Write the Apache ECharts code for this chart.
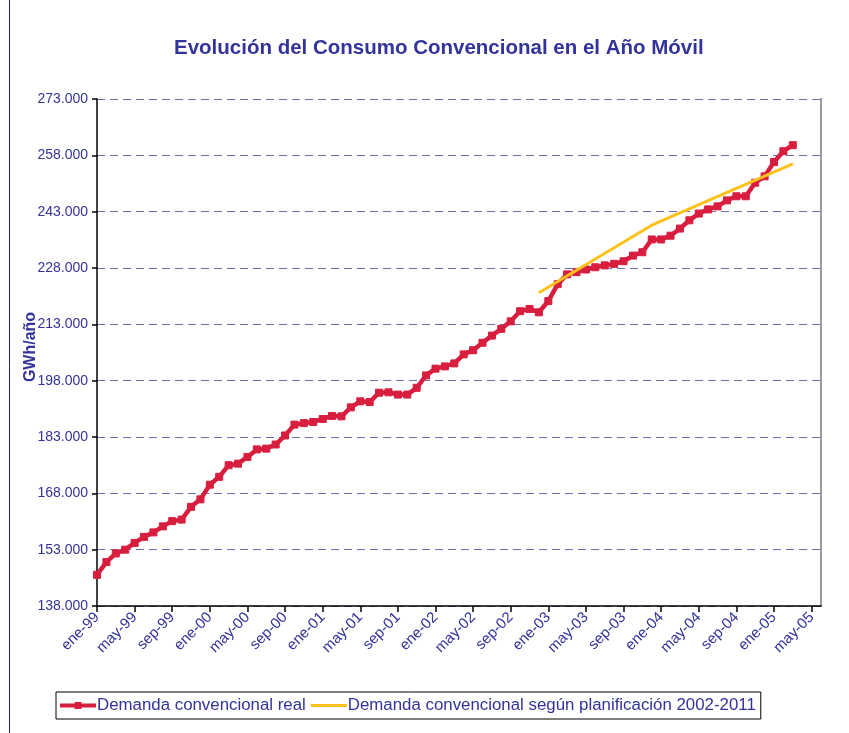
<!DOCTYPE html>
<html><head><meta charset="utf-8">
<script src="https://cdn.jsdelivr.net/npm/echarts@6/dist/echarts.min.js"></script>
<style>html,body{margin:0;padding:0;background:#fff}#c{width:849px;height:733px}</style>
</head><body><div id="c"></div>
<script>
const categorias = [
 'ene-99','feb-99','mar-99','abr-99','may-99','jun-99','jul-99','ago-99','sep-99','oct-99','nov-99','dic-99',
 'ene-00','feb-00','mar-00','abr-00','may-00','jun-00','jul-00','ago-00','sep-00','oct-00','nov-00','dic-00',
 'ene-01','feb-01','mar-01','abr-01','may-01','jun-01','jul-01','ago-01','sep-01','oct-01','nov-01','dic-01',
 'ene-02','feb-02','mar-02','abr-02','may-02','jun-02','jul-02','ago-02','sep-02','oct-02','nov-02','dic-02',
 'ene-03','feb-03','mar-03','abr-03','may-03','jun-03','jul-03','ago-03','sep-03','oct-03','nov-03','dic-03',
 'ene-04','feb-04','mar-04','abr-04','may-04','jun-04','jul-04','ago-04','sep-04','oct-04','nov-04','dic-04',
 'ene-05','feb-05','mar-05','abr-05','may-05','jun-05'
];
const demandaReal = [
 146.3,149.7,152.0,153.0,154.8,156.4,157.6,159.2,160.6,161.0,164.4,166.4,
 170.3,172.4,175.5,175.9,177.7,179.7,179.9,181.0,183.4,186.3,186.7,187.0,
 187.8,188.6,188.5,190.9,192.5,192.3,194.8,194.9,194.3,194.3,196.1,199.4,
 201.2,201.8,202.6,205.0,206.1,208.1,210.0,211.8,213.8,216.5,217.1,216.2,
 219.2,223.7,226.3,226.9,227.6,228.2,228.7,229.1,229.8,231.3,232.2,235.6,
 235.6,236.6,238.5,240.7,242.5,243.6,244.4,246.0,247.1,247.1,250.7,252.4,
 256.2,259.1,260.7
].map(v => Math.round(v * 1000));
const planIndices = [47, 59, 74];
const planValores = [221400, 239400, 255700];
const demandaPlan = categorias.map(() => null);
planIndices.forEach((idx, k) => { demandaPlan[idx] = planValores[k]; });

const yMin = 138000, yMax = 273000, yStep = 15000;
const navy = '#333399';
const rojo = '#d81e3f';
const amarillo = '#fcc21b';
const font = 'Liberation Sans, Arial, sans-serif';

function fmtMiles(v) {
  const a = Math.floor(v / 1000), b = v % 1000;
  return a + '.' + String(b).padStart(3, '0');
}

const chart = echarts.init(document.getElementById('c'), null, {renderer: 'canvas'});
chart.setOption({
  backgroundColor: '#fff',
  animation: false,
  title: {
    text: 'Evolución del Consumo Convencional en el Año Móvil',
    left: 169, top: 33,
    textStyle: {color: navy, fontFamily: font, fontWeight: 'bold', fontSize: 20.5}
  },
  grid: {left: 97, right: 28, top: 99, bottom: 127, containLabel: false},
  legend: {
    left: 56, top: 692,
    itemWidth: 36, itemHeight: 12, itemGap: 5,
    borderColor: '#000', borderWidth: 1, padding: [5, 5, 5, 4],
    textStyle: {color: navy, fontFamily: font, fontSize: 16.85, padding: [0, 0, 0, -4]},
    data: [
      {name: 'Demanda convencional real', icon: 'path://M0 4.5h36v4H0z M14.5 3h7v7h-7z'},
      {name: 'Demanda convencional según planificación 2002-2011', icon: 'path://M0 0h36v3H0z'}
    ]
  },
  xAxis: {
    type: 'category', data: categorias, boundaryGap: false,
    axisLine: {lineStyle: {color: '#000', width: 1.5}},
    axisTick: {interval: 3, length: 6, lineStyle: {color: '#000', width: 1.5}},
    axisLabel: {interval: 3, rotate: 45, color: navy, fontFamily: font, fontSize: 15, margin: 9},
    splitLine: {show: false}
  },
  yAxis: {
    type: 'value', min: yMin, max: yMax, interval: yStep,
    axisLine: {show: true, lineStyle: {color: '#000', width: 1.5}},
    axisTick: {show: true, length: 5, lineStyle: {color: '#000', width: 1.5}},
    axisLabel: {color: navy, fontFamily: font, fontSize: 14, margin: 9, formatter: fmtMiles},
    splitLine: {show: true, lineStyle: {color: '#6f6fb0', width: 1, type: [8, 5]}}
  },
  series: [
    {
      name: 'Demanda convencional real', type: 'line', data: demandaReal,
      symbol: 'rect', symbolSize: 7, showSymbol: true, showAllSymbol: true,
      lineStyle: {color: rojo, width: 4.5},
      itemStyle: {color: rojo, borderColor: rojo},
      z: 2
    },
    {
      name: 'Demanda convencional según planificación 2002-2011', type: 'line', data: demandaPlan,
      connectNulls: true, symbol: 'none', showSymbol: false,
      lineStyle: {color: amarillo, width: 3},
      itemStyle: {color: amarillo},
      z: 3
    }
  ],
  graphic: [
    {type: 'line', shape: {x1: 821, y1: 98, x2: 821, y2: 607}, style: {stroke: '#9a9a9a', lineWidth: 2}},
    {type: 'line', shape: {x1: 9.5, y1: 0, x2: 9.5, y2: 733}, style: {stroke: '#222266', lineWidth: 1}},
    {type: 'text', x: 31, y: 347, rotation: Math.PI / 2,
     style: {text: 'GWh/año', fill: navy, font: 'bold 16px Liberation Sans, Arial, sans-serif',
             textAlign: 'center', textVerticalAlign: 'middle'}}
  ]
});
</script>
</body></html>
